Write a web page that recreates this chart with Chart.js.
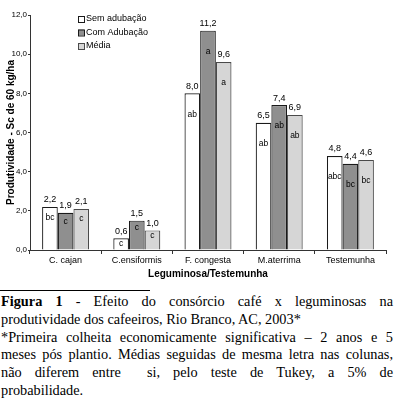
<!DOCTYPE html>
<html>
<head>
<meta charset="utf-8">
<script src="https://cdn.jsdelivr.net/npm/chart.js@4.4.0/dist/chart.umd.min.js"></script>
<style>
  html, body { margin: 0; padding: 0; background: #fff; }
  body { width: 395px; height: 405px; position: relative; overflow: hidden; }
  #wrap { position: absolute; left: 0; top: 0; width: 395px; height: 288px; }
  #sep { position: absolute; left: 0; top: 290px; width: 150px; border-top: 1px solid #000; }
  #cap { position: absolute; left: 1px; top: 293px; width: 392px; font-family: "Liberation Serif", "Times New Roman", serif; font-size: 14.3px; line-height: 17.8px; color: #000; }
  #cap div { text-align: justify; text-align-last: justify; white-space: nowrap; }
  #cap div.last { text-align: left; text-align-last: left; }
</style>
</head>
<body>
<div id="wrap"><canvas id="c" width="395" height="288"></canvas></div>
<div id="sep"></div>
<div id="cap">
  <div><b>Figura 1</b> - Efeito do consórcio café x leguminosas na</div>
  <div class="last">produtividade dos cafeeiros, Rio Branco, AC, 2003*</div>
  <div>*Primeira colheita economicamente significativa – 2 anos e 5</div>
  <div>meses pós plantio. Médias seguidas de mesma letra nas colunas,</div>
  <div>não diferem entre&nbsp; si, pelo teste de Tukey, a 5% de</div>
  <div class="last">probabilidade.</div>
</div>
<script>
const categories = ["C. cajan", "C.ensiformis", "F. congesta", "M.aterrima", "Testemunha"];
const seriesNames = ["Sem adubação", "Com Adubação", "Média"];
const semAdubacao = [2.2, 0.6, 8.0, 6.5, 4.8];
const comAdubacao = [1.9, 1.5, 11.2, 7.4, 4.4];
const media = [2.1, 1.0, 9.6, 6.9, 4.6];
const letrasSem = ["bc", "c", "ab", "ab", "abc"];
const letrasCom = ["c", "c", "a", "ab", "bc"];
const letrasMedia = ["c", "c", "a", "ab", "bc"];
const yTicks = [0, 2, 4, 6, 8, 10, 12];

const fmt = v => v.toFixed(1).replace('.', ',');
const letters = [letrasSem, letrasCom, letrasMedia];
const FONT = '"Liberation Sans", Arial, sans-serif';

const labelPlugin = {
  id: 'barLabels',
  afterDatasetsDraw(chart) {
    const ctx = chart.ctx;
    ctx.save();
    ctx.textAlign = 'center';
    ctx.textBaseline = 'middle';
    ctx.fillStyle = '#000';
    chart.data.datasets.forEach((ds, i) => {
      const meta = chart.getDatasetMeta(i);
      meta.data.forEach((bar, j) => {
        const h = bar.base - bar.y;
        ctx.font = '9px ' + FONT;
        ctx.fillText(fmt(ds.data[j]), bar.x, bar.y - 7);
        ctx.font = '8.5px ' + FONT;
        ctx.fillText(letters[i][j], bar.x, bar.y + Math.min(21, Math.max(5, h / 4)));
      });
    });
    ctx.restore();
  }
};

const legendPlugin = {
  id: 'insideLegend',
  afterDraw(chart) {
    const ctx = chart.ctx;
    const a = chart.chartArea;
    ctx.save();
    ctx.font = '9px ' + FONT;
    ctx.textBaseline = 'middle';
    ctx.textAlign = 'left';
    const x0 = a.left + 48;
    chart.data.datasets.forEach((ds, i) => {
      const y = a.top + 4 + i * 13.5;
      ctx.fillStyle = ds.backgroundColor;
      ctx.fillRect(x0, y - 3, 6, 6);
      ctx.strokeStyle = ds.borderColor;
      ctx.lineWidth = 1;
      ctx.strokeRect(x0 + 0.5, y - 2.5, 6, 6);
      ctx.fillStyle = '#000';
      ctx.fillText(ds.label, x0 + 8, y);
    });
    ctx.restore();
  }
};

new Chart(document.getElementById('c'), {
  type: 'bar',
  data: {
    labels: categories,
    datasets: [
      { label: seriesNames[0], data: semAdubacao, backgroundColor: '#ffffff', borderColor: '#1a1a1a', borderWidth: 1.2 },
      { label: seriesNames[1], data: comAdubacao, backgroundColor: '#8f8f8f', borderColor: '#1a1a1a', borderWidth: 1.2 },
      { label: seriesNames[2], data: media, backgroundColor: '#d6d6d6', borderColor: '#4a4a4a', borderWidth: 1.2 }
    ]
  },
  options: {
    responsive: false,
    animation: false,
    devicePixelRatio: 1,
    layout: { padding: { top: 15, right: 9, left: 0, bottom: 0 } },
    datasets: { bar: { categoryPercentage: 0.66, barPercentage: 1.0 } },
    plugins: { legend: { display: false }, tooltip: { enabled: false } },
    scales: {
      x: {
        grid: { display: true, drawOnChartArea: false, offset: true, tickLength: 4, color: '#333' },
        border: { display: true, color: '#333', width: 1 },
        ticks: { color: '#000', font: { family: FONT, size: 9 }, padding: 1, maxRotation: 0, autoSkip: false },
        title: { display: true, text: 'Leguminosa/Testemunha', color: '#000', font: { family: FONT, size: 10, weight: 'bold' }, padding: { top: 0, bottom: 8 } },
        afterFit(s) { s.height = 38; }
      },
      y: {
        min: 0, max: 12,
        afterBuildTicks(s) { s.ticks = yTicks.map(v => ({ value: v })); },
        grid: { display: true, drawOnChartArea: false, tickLength: 2, color: '#333' },
        border: { display: true, color: '#333', width: 1 },
        ticks: { color: '#000', font: { family: FONT, size: 8 }, padding: 1, callback: v => fmt(v) },
        title: { display: true, text: 'Produtividade - Sc de 60 kg/ha', color: '#000', font: { family: FONT, size: 10, weight: 'bold' }, padding: { top: 5, bottom: 0 } },
        afterFit(s) { s.width = 30; }
      }
    }
  },
  plugins: [labelPlugin, legendPlugin]
});
</script>
</body>
</html>
